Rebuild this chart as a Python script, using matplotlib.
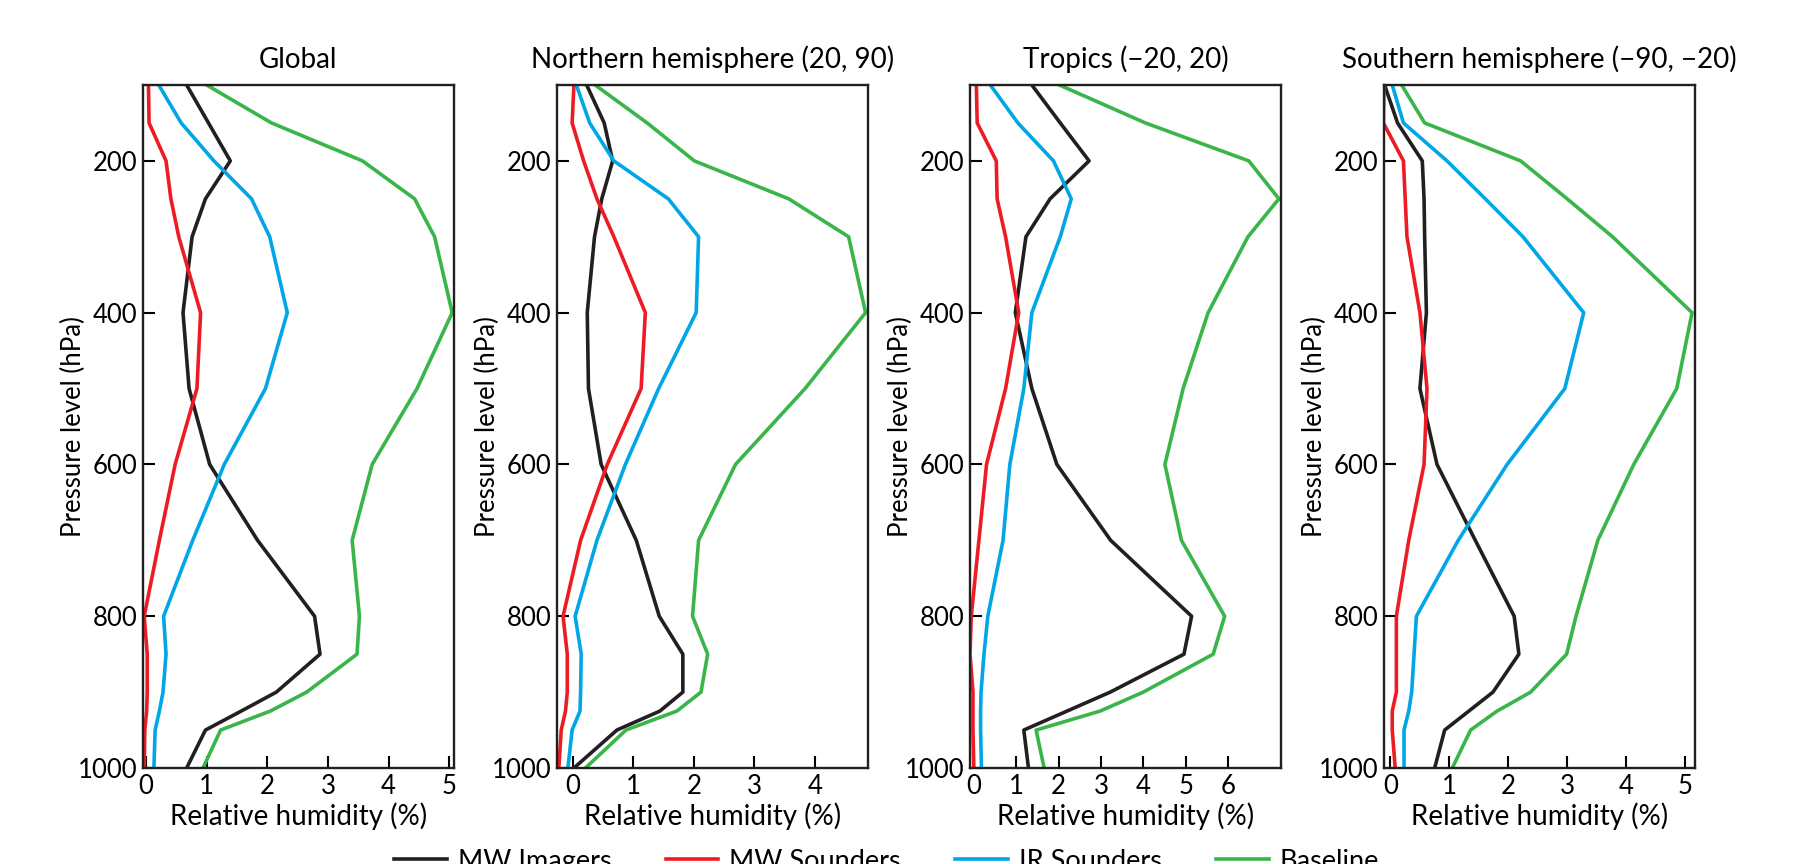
import numpy as np
import matplotlib.pyplot as plt

plt.rcParams['font.family'] = ['Lato', 'DejaVu Sans']

# pressure levels (hPa)
levels = [100, 150, 200, 250, 300, 400, 500, 600, 700, 800, 850, 900, 925, 950, 1000]

titles = ["Global", "Northern hemisphere (20, 90)", "Tropics (\u221220, 20)",
          "Southern hemisphere (\u221290, \u221220)"]
series_names = ["MW Imagers", "MW Sounders", "IR Sounders", "Baseline"]

# relative humidity impact (%) per panel, one list per series
global_mw_imagers = [0.67, 1.03, 1.39, 0.98, 0.76, 0.61, 0.71, 1.05, 1.84, 2.78, 2.87, 2.15, 1.57, 0.98, 0.67]
global_mw_sounders = [0.04, 0.05, 0.33, 0.41, 0.54, 0.90, 0.84, 0.48, 0.22, -0.03, 0.02, 0.02, 0.01, -0.02, -0.03]
global_ir_sounders = [0.21, 0.58, 1.12, 1.74, 2.04, 2.33, 1.97, 1.29, 0.77, 0.29, 0.33, 0.28, 0.22, 0.15, 0.13]
global_baseline = [1.00, 2.07, 3.57, 4.43, 4.76, 5.05, 4.47, 3.73, 3.40, 3.52, 3.48, 2.65, 2.05, 1.23, 0.94]

nh_mw_imagers = [0.23, 0.52, 0.66, 0.48, 0.36, 0.24, 0.26, 0.47, 1.05, 1.43, 1.82, 1.82, 1.44, 0.73, 0.02]
nh_mw_sounders = [0.02, -0.01, 0.18, 0.40, 0.68, 1.20, 1.13, 0.57, 0.13, -0.16, -0.09, -0.09, -0.12, -0.19, -0.23]
nh_ir_sounders = [0.06, 0.28, 0.68, 1.58, 2.08, 2.04, 1.42, 0.87, 0.40, 0.04, 0.14, 0.13, 0.12, -0.01, -0.08]
nh_baseline = [0.37, 1.23, 2.01, 3.57, 4.56, 4.84, 3.84, 2.69, 2.08, 1.98, 2.23, 2.12, 1.72, 0.88, 0.21]

tr_mw_imagers = [1.37, 2.04, 2.72, 1.80, 1.23, 0.98, 1.37, 1.96, 3.23, 5.14, 4.96, 3.22, 2.20, 1.18, 1.29]
tr_mw_sounders = [0.06, 0.08, 0.53, 0.55, 0.75, 1.06, 0.75, 0.30, 0.12, -0.06, -0.09, -0.02, -0.02, -0.02, 0.00]
tr_ir_sounders = [0.39, 1.04, 1.88, 2.30, 2.04, 1.37, 1.18, 0.85, 0.69, 0.33, 0.24, 0.17, 0.16, 0.16, 0.18]
tr_baseline = [2.02, 4.05, 6.49, 7.20, 6.47, 5.53, 4.94, 4.51, 4.90, 5.92, 5.65, 4.00, 2.98, 1.47, 1.66]

sh_mw_imagers = [-0.10, 0.12, 0.54, 0.57, 0.58, 0.61, 0.50, 0.79, 1.44, 2.10, 2.18, 1.74, 1.33, 0.92, 0.75]
sh_mw_sounders = [-0.11, -0.12, 0.22, 0.25, 0.28, 0.50, 0.62, 0.57, 0.31, 0.10, 0.10, 0.10, 0.03, 0.03, 0.08]
sh_ir_sounders = [0.03, 0.22, 0.96, 1.61, 2.25, 3.28, 2.96, 1.98, 1.15, 0.44, 0.40, 0.36, 0.31, 0.23, 0.23]
sh_baseline = [0.19, 0.58, 2.21, 3.00, 3.77, 5.12, 4.86, 4.13, 3.52, 3.15, 2.99, 2.38, 1.81, 1.36, 1.05]

panels = [
    [global_mw_imagers, global_mw_sounders, global_ir_sounders, global_baseline],
    [nh_mw_imagers, nh_mw_sounders, nh_ir_sounders, nh_baseline],
    [tr_mw_imagers, tr_mw_sounders, tr_ir_sounders, tr_baseline],
    [sh_mw_imagers, sh_mw_sounders, sh_ir_sounders, sh_baseline],
]
xlims = [(-0.05, 5.08), (-0.26, 4.88), (-0.09, 7.25), (-0.11, 5.17)]
xticks = [range(0, 6), range(0, 5), range(0, 7), range(0, 6)]

colors = ["#231f20", "#ed1c24", "#00a6e6", "#39b54a"]

fig = plt.figure(figsize=(17.93, 8.64), dpi=100)
lefts = [143, 557, 970, 1384]

for i in range(4):
    ax = fig.add_axes([lefts[i] / 1793, 96 / 864, 311 / 1793, 683 / 864])
    for j in range(4):
        ax.plot(panels[i][j], levels, color=colors[j], lw=2.6, label=series_names[j])
    ax.set_ylim(1000, 100)
    ax.set_xlim(*xlims[i])
    ax.set_yticks([200, 400, 600, 800, 1000])
    ax.set_xticks(list(xticks[i]))
    ax.tick_params(direction="in", length=8.5, width=1.5, labelsize=18.5, pad=4)
    for sp in ax.spines.values():
        sp.set_linewidth(1.7)
        sp.set_color("#231f20")
    ax.set_title(titles[i], fontsize=20, pad=12)
    ax.set_xlabel("Relative humidity (%)", fontsize=20, labelpad=3)
    ax.set_ylabel("Pressure level (hPa)", fontsize=18.5, labelpad=-6)
    if i == 0:
        handles, labels = ax.get_legend_handles_labels()

fig.legend(handles, labels, loc="upper center", ncol=4, frameon=False,
           bbox_to_anchor=(0.4944, 0.046), fontsize=19.5, handlelength=1.95,
           handletextpad=0.4, columnspacing=2.0)

fig.savefig("out.png", dpi=100)
